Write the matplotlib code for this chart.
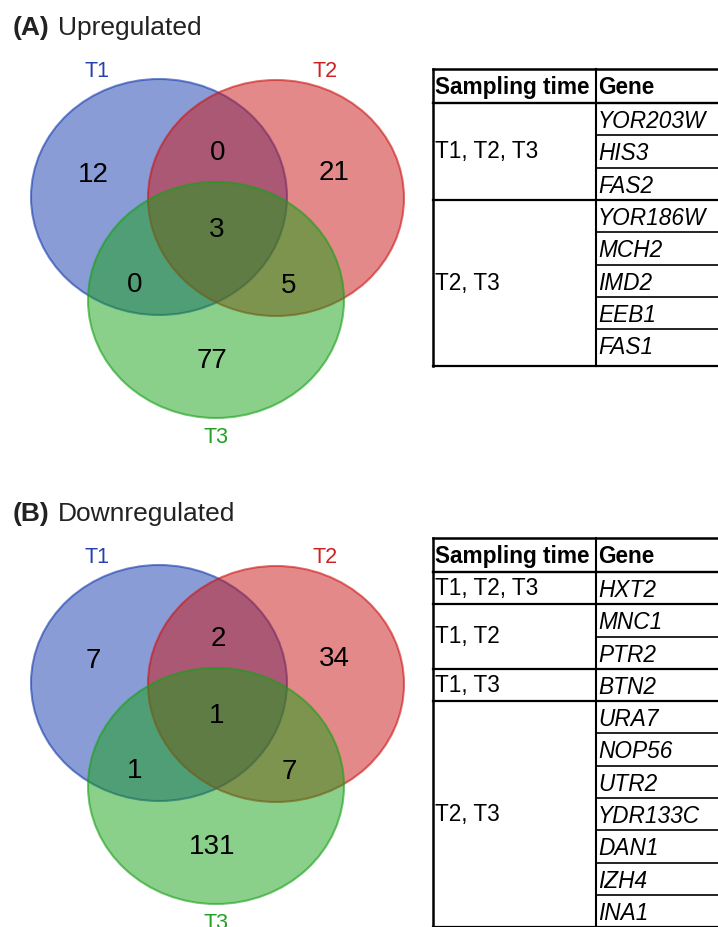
import matplotlib
matplotlib.use("Agg")
import matplotlib.pyplot as plt
from matplotlib.patches import Ellipse

plt.rcParams['font.family'] = ['Liberation Sans', 'DejaVu Sans']

# data
set_names = ['T1', 'T2', 'T3']
set_colors = ['#153bad', '#cb1515', '#17a017']
label_colors = ['#2540b0', '#d02020', '#22a022']
# region order: T1 only, T2 only, T3 only, T1&T2, T1&T3, T2&T3, all
up_counts = [12, 21, 77, 0, 0, 5, 3]
down_counts = [7, 34, 131, 2, 1, 7, 1]

up_times = ['T1, T2, T3', 'T2, T3']
up_genes = [['YOR203W', 'HIS3', 'FAS2'],
            ['YOR186W', 'MCH2', 'IMD2', 'EEB1', 'FAS1']]
down_times = ['T1, T2, T3', 'T1, T2', 'T1, T3', 'T2, T3']
down_genes = [['HXT2'], ['MNC1', 'PTR2'], ['BTN2'],
              ['URA7', 'NOP56', 'UTR2', 'YDR133C', 'DAN1', 'IZH4', 'INA1']]

# layout (pixels)
W, H = 718, 927
centers = [(159, 197), (276, 198), (216, 300)]
rx, ry = 128, 118
name_pos = [(97, 77), (325, 77), (216, 443)]
region_pos = [(93, 182), (334, 180), (212, 368), (218, 160),
              (135, 292), (289, 293), (217, 237)]

fig = plt.figure(figsize=(W / 100, H / 100), dpi=100)
ax = fig.add_axes([0, 0, 1, 1])
ax.set_xlim(0, W)
ax.set_ylim(H, 0)
ax.axis('off')


def venn(dy, counts, letter, title):
    ax.text(13, 35 + dy, letter, fontsize=19, fontweight='bold', color='#222222')
    ax.text(58, 35 + dy, title, fontsize=19, color='#222222')
    for (cx, cy), c in zip(centers, set_colors):
        ax.add_patch(Ellipse((cx, cy + dy), 2 * rx, 2 * ry, facecolor=c,
                             alpha=0.5, edgecolor='none'))
        ax.add_patch(Ellipse((cx, cy + dy), 2 * rx, 2 * ry, facecolor='none',
                             edgecolor=c, alpha=0.6, lw=1.5))
    for (x, y), n, c in zip(name_pos, set_names, label_colors):
        ax.text(x, y + dy, n, ha='center', va='baseline', fontsize=15.5, color=c)
    for (x, y), v in zip(region_pos, counts):
        ax.text(x, y + dy, str(v), ha='center', va='baseline', fontsize=20,
                color='black')


def table(top, times, genes, extra=0):
    x0, xd, x1 = 433, 596, 740
    hh, rh = 34, 32.3
    y = top + hh
    n = sum(len(g) for g in genes)
    bottom = y + n * rh + extra
    ax.text(435, top + 25, 'Sampling time', fontsize=16.3, fontweight='bold')
    ax.text(598, top + 25, 'Gene', fontsize=16.3, fontweight='bold')
    ax.plot([x0, x1], [top, top], color='black', lw=1.8)
    ax.plot([x0, x1], [y, y], color='black', lw=1.7)
    ax.plot([x0, x0], [top, bottom], color='black', lw=1.8)
    ax.plot([xd, xd], [top, bottom], color='black', lw=1.5)
    for t, g in zip(times, genes):
        g_top = y
        for i, name in enumerate(g):
            ax.text(598, y + 25, name, fontsize=16.3, fontstyle='italic')
            y += rh
            if i < len(g) - 1:
                ax.plot([xd, x1], [y, y], color='black', lw=1.2)
        if t is times[-1]:
            y = bottom
        ax.plot([x0, x1], [y, y], color='black', lw=1.6)
        ax.text(435, (g_top + y) / 2, t, fontsize=16.3, va='center')


venn(0, up_counts, '(A)', 'Upregulated')
venn(486, down_counts, '(B)', 'Downregulated')
table(69, up_times, up_genes, extra=5)
table(538, down_times, down_genes)

fig.savefig('out.png', dpi=100)
